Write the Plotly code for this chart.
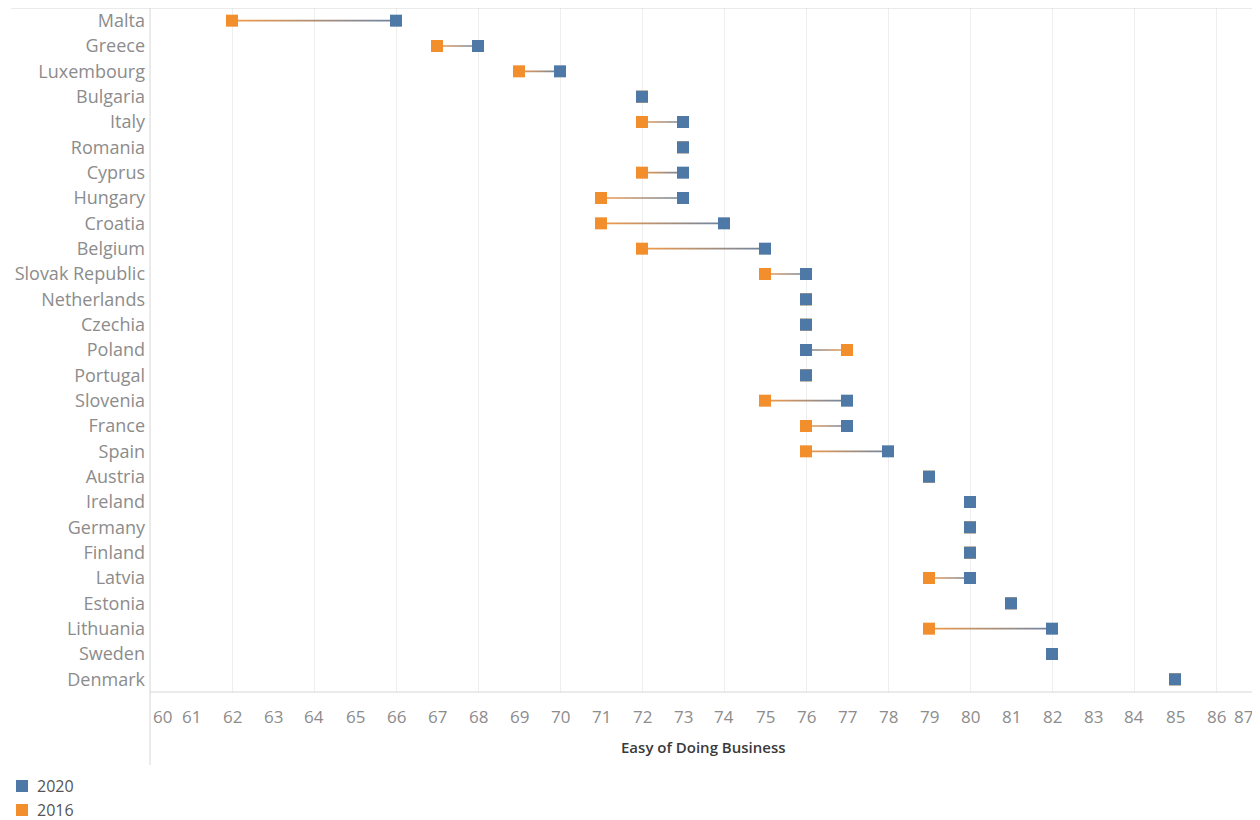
import plotly.graph_objects as go

countries = ["Malta", "Greece", "Luxembourg", "Bulgaria", "Italy", "Romania", "Cyprus",
             "Hungary", "Croatia", "Belgium", "Slovak Republic", "Netherlands", "Czechia",
             "Poland", "Portugal", "Slovenia", "France", "Spain", "Austria", "Ireland",
             "Germany", "Finland", "Latvia", "Estonia", "Lithuania", "Sweden", "Denmark"]
v2016 = [62, 67, 69, 72, 72, 73, 72, 71, 71, 72, 75, 76, 76, 77, 76, 75, 76, 76, 79, 80,
         80, 80, 79, 81, 79, 82, 85]
v2020 = [66, 68, 70, 72, 73, 73, 73, 73, 74, 75, 76, 76, 76, 76, 76, 77, 77, 78, 79, 80,
         80, 80, 80, 81, 82, 82, 85]
xticks = list(range(60, 88))
series = [("2020", v2020, "#4e79a7"), ("2016", v2016, "#f28e2b")]

FONT = "Open Sans"
LINE_FROM = "#f39a48"
LINE_TO = "#6a84a3"
# page body has an 8px margin: figure is placed at (8, 8)
OFF = 8
W, H = 1260 - OFF, 820 - OFF
L, R, T = 150 - OFF, 3, 0
PLOT_TOP = OFF + T
PLOT_BOTTOM = 692
PH = PLOT_BOTTOM - PLOT_TOP
B = H - T - PH
PW = W - L - R
ROW_PX = PH / len(countries)

def py(page_y):
    return (PLOT_BOTTOM - page_y) / PH

def px(page_x):
    return (page_x - (OFF + L)) / PW

idx = list(range(len(countries)))

fig = go.Figure()

# connecting lines: thin polygons with a horizontal colour gradient (2016 -> 2020)
half = 0.85 / ROW_PX
for i, (a, b) in enumerate(zip(v2016, v2020)):
    if a == b:
        continue
    lo, hi = min(a, b), max(a, b)
    scale = [[0, LINE_FROM], [1, LINE_TO]] if a < b else [[0, LINE_TO], [1, LINE_FROM]]
    fig.add_trace(go.Scatter(
        x=[lo, hi, hi, lo, lo], y=[i - half, i - half, i + half, i + half, i - half],
        mode="lines", line=dict(width=0), fill="toself",
        fillgradient=dict(type="horizontal", colorscale=scale),
        hoverinfo="skip", showlegend=False))

for name, vals, col in reversed(series):
    fig.add_trace(go.Scatter(x=vals, y=idx, mode="markers", name=name, showlegend=False,
                             marker=dict(symbol="square", size=12, color=col)))

shapes = []
FRAME = "#d6d6d6"
shapes.append(dict(type="line", xref="paper", yref="paper",
                   x0=px(11), x1=px(1262), y0=1, y1=1, line=dict(color=FRAME, width=1)))
shapes.append(dict(type="line", xref="paper", yref="paper",
                   x0=0, x1=0, y0=1, y1=py(765), line=dict(color=FRAME, width=1)))
shapes.append(dict(type="line", xref="paper", yref="paper",
                   x0=1, x1=1, y0=0, y1=py(765), line=dict(color=FRAME, width=1)))
shapes.append(dict(type="line", xref="paper", yref="paper",
                   x0=0, x1=px(1262), y0=0, y1=0, line=dict(color=FRAME, width=1)))

annotations = []
for v in xticks:
    anchor, shift = "center", 0
    if v == xticks[0]:
        anchor, shift = "left", 1
    elif v == xticks[-1]:
        anchor, shift = "right", -2
    annotations.append(dict(x=v, y=0, xref="x", yref="paper", yshift=-24, xshift=shift,
                            text=str(v), showarrow=False, xanchor=anchor, yanchor="middle",
                            font=dict(family=FONT, size=17, color="#8c8c8c")))
annotations.append(dict(x=0.5, y=py(747), xref="paper", yref="paper",
                        text="Easy of Doing Business", showarrow=False,
                        xanchor="center", yanchor="middle",
                        font=dict(family=FONT, size=15, color="#3a3a3a", weight=600)))

# manual legend (Tableau-style, tight spacing)
for k, (name, vals, col) in enumerate(series):
    cy = 786 + 24 * k
    shapes.append(dict(type="rect", xref="paper", yref="paper",
                       x0=px(16), x1=px(28), y0=py(cy - 6), y1=py(cy + 6),
                       fillcolor=col, line=dict(width=0)))
    annotations.append(dict(x=px(35), y=py(cy), xref="paper", yref="paper", text=name,
                            showarrow=False, xanchor="left", yanchor="middle",
                            font=dict(family=FONT, size=16, color="#555555")))

fig.update_layout(
    width=W, height=H,
    margin=dict(l=L, r=R, t=T, b=B, autoexpand=False),
    paper_bgcolor="white", plot_bgcolor="white",
    shapes=shapes, annotations=annotations,
    showlegend=False,
    xaxis=dict(range=[60, 87], tickvals=list(range(60, 88, 2)), showticklabels=False,
               showgrid=True, gridcolor="#eeeeee", gridwidth=1, zeroline=False,
               showline=False, fixedrange=True),
    yaxis=dict(range=[len(countries) - 0.5, -0.5], tickvals=idx, ticktext=countries,
               showgrid=False, zeroline=False, showline=False, ticks="",
               ticklabelstandoff=4, ticklabeloverflow="allow",
               tickfont=dict(family=FONT, size=18, color="#8c8c8c")),
)

fig.write_html("out.html")
